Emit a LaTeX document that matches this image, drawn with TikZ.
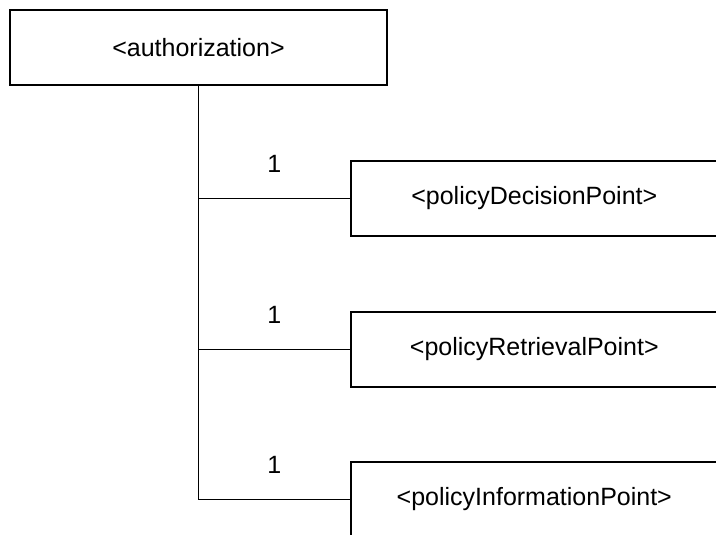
\documentclass[tikz,border=0pt]{standalone}
\usepackage{fontspec}
\setmainfont{Liberation Sans}
\usepackage{tikz}
\usetikzlibrary{positioning}

\tikzset{
    elem/.style={draw, rectangle, minimum height=75pt, inner sep=0pt},
    mult/.style={midway, above=22pt, inner sep=3pt}
}

\begin{document}
\begin{tikzpicture}[x=1pt, y=-1pt, line width=1.6pt,
    font=\fontsize{25}{30}\selectfont]
    \clip (0,0) rectangle (716,535);
    \useasboundingbox (0,0) rectangle (716,535);

    \node[elem, minimum width=377pt] (auth) at (198.5,47.5) {<authorization>};

    \node[elem, minimum width=367pt, anchor=west] (pdp) at (350,198.5) {<policyDecisionPoint>};
    \node[elem, minimum width=367pt, anchor=west] (prp) at (350,349.5) {<policyRetrievalPoint>};
    \node[elem, minimum width=367pt, anchor=west] (pip) at (350,499.5) {<policyInformationPoint>};

    % trunk and branches
    \draw (auth.south) |- (pip.west) node[mult, pos=0.75] {1};
    \draw (auth.south |- pdp.west) -- (pdp.west) node[mult] {1};
    \draw (auth.south |- prp.west) -- (prp.west) node[mult] {1};
\end{tikzpicture}
\end{document}
